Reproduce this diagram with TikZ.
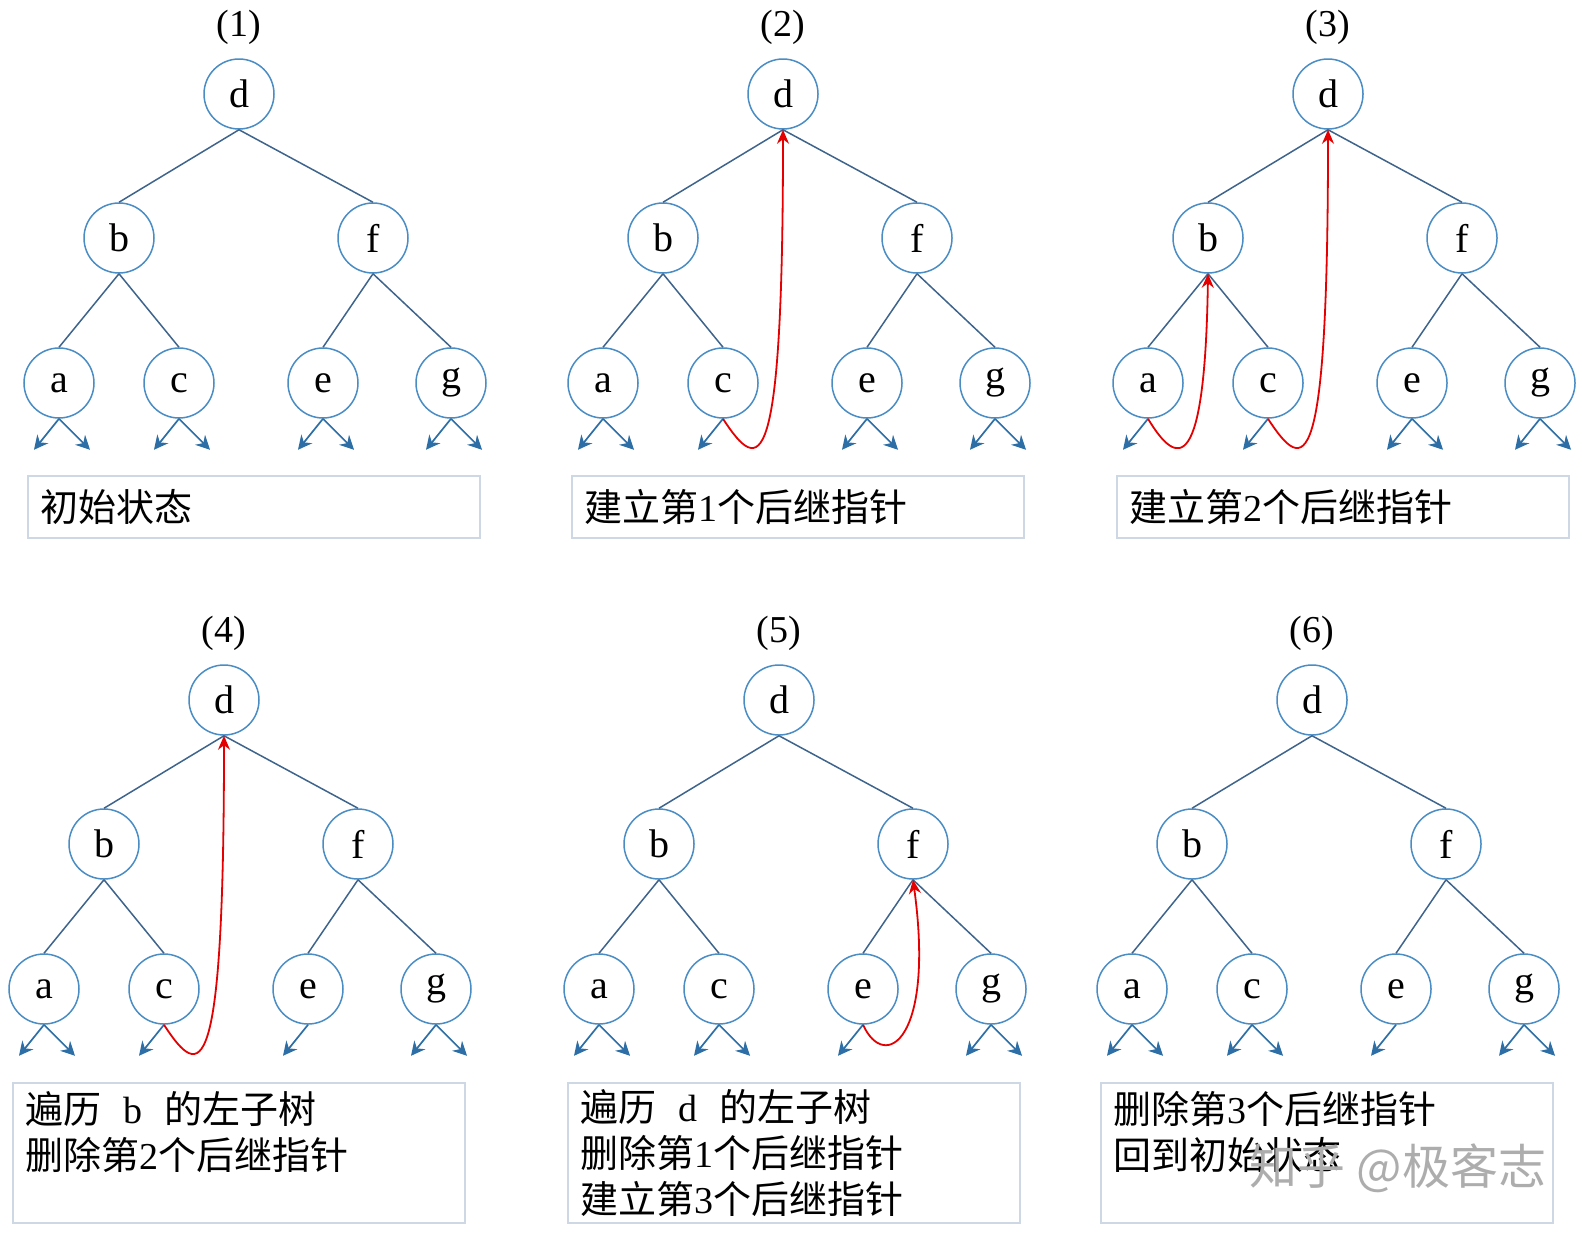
\documentclass[tikz,border=0pt]{standalone}
\usepackage{fontspec}
\setmainfont{Liberation Serif}
\newfontfamily\cjk{Noto Sans CJK SC}
\usepackage{tikz}
\usetikzlibrary{arrows.meta, calc}
\definecolor{ringblue}{RGB}{74, 140, 196}
\definecolor{edgeblue}{RGB}{62, 100, 140}
\definecolor{nullblue}{RGB}{44, 110, 165}
\definecolor{threadred}{RGB}{228, 0, 0}
\definecolor{notegray}{RGB}{205, 216, 228}

% one tree: d at the origin of the scope
\newcommand{\bintree}[2]{%
  \node[paneltitle] (t#1) at (0,-67) {#2};
  \node[vertex] (d#1) at (0,0) {d};
  \node[vertex] (b#1) at (-120,144) {b};
  \node[vertex] (f#1) at (134,144) {f};
  \node[vertex] (a#1) at (-180,289) {a};
  \node[vertex] (c#1) at (-60,289) {c};
  \node[vertex] (e#1) at (84,289) {e};
  \node[vertex] (g#1) at (212,289) {g};
  \draw[edge] (d#1.south) -- (b#1.north);
  \draw[edge] (d#1.south) -- (f#1.north);
  \draw[edge] (b#1.south) -- (a#1.north);
  \draw[edge] (b#1.south) -- (c#1.north);
  \draw[edge] (f#1.south) -- (e#1.north);
  \draw[edge] (f#1.south) -- (g#1.north);
}
\newcommand{\nullL}[1]{\coordinate (#1l) at ([shift={(-25,31)}]#1.south); \draw[nullptr] (#1.south) -- (#1l);}
\newcommand{\nullR}[1]{\coordinate (#1r) at ([shift={(31,31)}]#1.south); \draw[nullptr] (#1.south) -- (#1r);}

\begin{document}
\begin{tikzpicture}[
  x=0.5pt, y=-0.5pt,
  vertex/.style={circle, draw=ringblue, line width=0.75pt, minimum size=35pt, inner sep=0pt, font=\fontsize{20pt}{20pt}\selectfont},
  paneltitle/.style={inner sep=0pt, font=\fontsize{19pt}{19pt}\selectfont},
  edge/.style={draw=edgeblue, line width=0.75pt},
  nullptr/.style={draw=nullblue, line width=0.85pt, -{Stealth[length=7pt, width=7pt]}},
  thread/.style={draw=threadred, line width=0.9pt, -{Stealth[length=7pt, width=6pt]}},
  note/.style={draw=notegray, line width=1pt, anchor=north west, minimum width=226pt, text width=213.6pt, inner xsep=6.2pt, inner ysep=1pt, align=left, font=\cjk\fontsize{19pt}{23pt}\selectfont}
]
  \useasboundingbox (0,0) rectangle (1582,1232);

  % (1)
  \begin{scope}[shift={(239,94)}]
    \bintree{1}{(1)}
    \foreach \n in {a1,c1,e1,g1} {\nullL{\n} \nullR{\n}}
    \node[note, minimum height=31pt] (n1) at (-212,381) {初始状态};
  \end{scope}

  % (2)
  \begin{scope}[shift={(783,94)}]
    \bintree{2}{(2)}
    \foreach \n in {a2,c2,e2,g2} {\nullL{\n}}
    \foreach \n in {a2,e2,g2} {\nullR{\n}}
    \draw[thread] (c2.south) .. controls +(37,57) and +(0,351) .. (d2.south);
    \node[note, minimum height=31pt] (n2) at (-212,381) {建立第{\rmfamily 1}个后继指针};
  \end{scope}

  % (3)
  \begin{scope}[shift={(1328,94)}]
    \bintree{3}{(3)}
    \foreach \n in {a3,c3,e3,g3} {\nullL{\n}}
    \foreach \n in {e3,g3} {\nullR{\n}}
    \draw[thread] (a3.south) .. controls +(30,50) and +(-3,200) .. (b3.south);
    \draw[thread] (c3.south) .. controls +(37,57) and +(0,351) .. (d3.south);
    \node[note, minimum height=31pt] (n3) at (-212,381) {建立第{\rmfamily 2}个后继指针};
  \end{scope}

  % (4)
  \begin{scope}[shift={(224,700)}]
    \bintree{4}{(4)}
    \foreach \n in {a4,c4,e4,g4} {\nullL{\n}}
    \foreach \n in {a4,g4} {\nullR{\n}}
    \draw[thread] (c4.south) .. controls +(37,57) and +(0,351) .. (d4.south);
    \node[note, minimum height=70pt] (n4) at (-212,382) {遍历\hspace{11pt}{\rmfamily b}\hspace{11pt}的左子树\\删除第{\rmfamily 2}个后继指针\\\mbox{}};
  \end{scope}

  % (5)
  \begin{scope}[shift={(779,700)}]
    \bintree{5}{(5)}
    \foreach \n in {a5,c5,e5,g5} {\nullL{\n}}
    \foreach \n in {a5,c5,g5} {\nullR{\n}}
    \draw[thread] (e5.south) .. controls +(22,48) and +(22,160) .. (f5.south);
    \node[note, minimum height=70pt] (n5) at (-212,382) {遍历\hspace{11pt}{\rmfamily d}\hspace{11pt}的左子树\\删除第{\rmfamily 1}个后继指针\\建立第{\rmfamily 3}个后继指针};
  \end{scope}

  % (6)
  \begin{scope}[shift={(1312,700)}]
    \bintree{6}{(6)}
    \foreach \n in {a6,c6,e6,g6} {\nullL{\n}}
    \foreach \n in {a6,c6,g6} {\nullR{\n}}
    \node[note, minimum height=70pt] (n6) at (-212,382) {删除第{\rmfamily 3}个后继指针\\回到初始状态\\\mbox{}};
  \end{scope}

  \node[text=black!32, font=\cjk\fontsize{24pt}{24pt}\selectfont] (mark) at (1398,1168) {知乎 @极客志};

\end{tikzpicture}
\end{document}
